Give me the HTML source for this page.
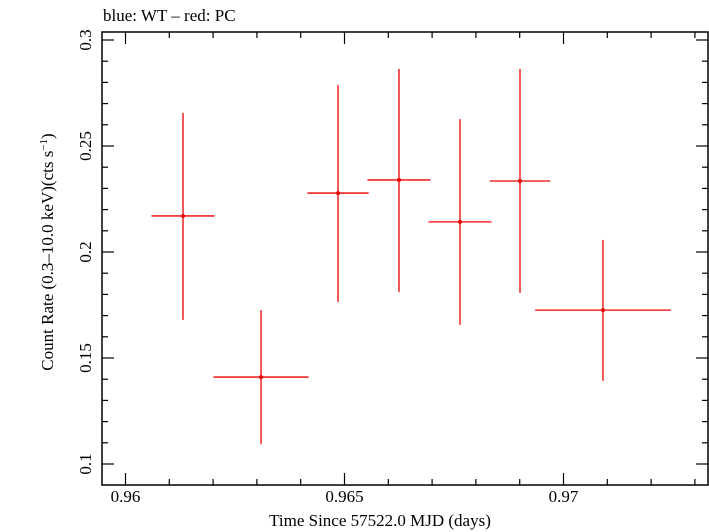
<!DOCTYPE html>
<html><head><meta charset="utf-8"><style>
body{margin:0;background:#fff}
svg{display:block;font-family:"Liberation Serif",serif}
</style></head><body>
<svg id="chart" width="709" height="532">
<text x="103" y="21" font-size="17">blue: WT – red: PC</text>
<rect x="102" y="32" width="606" height="453" fill="none" stroke="#000" stroke-width="1.5"/>
<g id="ticks"></g>
<g id="marks"></g>
<text x="380" y="526" font-size="17" text-anchor="middle">Time Since 57522.0 MJD (days)</text>
<text transform="translate(53,252) rotate(-90)" font-size="17" text-anchor="middle">Count Rate (0.3–10.0 keV)(cts s<tspan dy="-6" font-size="11">−1</tspan><tspan dy="6">)</tspan></text>
</svg>
<script>
const times=[0.961313,0.963094,0.964852,0.966244,0.967637,0.969007,0.970902];
const halfWidths=[0.00072,0.001085,0.0007,0.00072,0.00072,0.00069,0.00155];
const rates=[0.217,0.141,0.2278,0.234,0.2142,0.2335,0.1726];
const errUp=[0.2656,0.1726,0.2788,0.2863,0.2627,0.2863,0.2057];
const errLo=[0.168,0.1094,0.1764,0.1811,0.1656,0.1807,0.1392];
const xTickLabels=["0.96","0.965","0.97"];
const yTickLabels=["0.1","0.15","0.2","0.25","0.3"];
const NS="http://www.w3.org/2000/svg";
const X=v=>125.5+(v-0.96)*43800;
const Y=v=>40+(0.3-v)*2120;
const L=102,R=708,T=32,B=485;
function mk(tag,attrs,parent){const e=document.createElementNS(NS,tag);for(const k in attrs)e.setAttribute(k,attrs[k]);parent.appendChild(e);return e;}
const tg=document.getElementById('ticks');
for(let i=0;i<=13;i++){const v=0.96+i*0.001;const x=X(v);if(x>R)break;const major=i%5==0;const len=major?12:6;
 const t=mk('line',{x1:x,x2:x,y1:B,y2:B-len,stroke:'#000','stroke-width':1.2},tg);
 
 
 const t2=mk('line',{x1:x,x2:x,y1:T,y2:T+len,stroke:'#000','stroke-width':1.2},tg);
 
 }
xTickLabels.forEach(s=>{const t=mk('text',{x:X(parseFloat(s)),y:502,'font-size':17,'text-anchor':'middle'},tg);t.textContent=s;
 
 });
for(let i=0;i<=21;i++){const v=0.1+i*0.01;const y=Y(v);if(y<T)break;const major=i%5==0;const len=major?12:6;
 const t=mk('line',{x1:L,x2:L+len,y1:y,y2:y,stroke:'#000','stroke-width':1.2},tg);
 
 
 const t2=mk('line',{x1:R,x2:R-len,y1:y,y2:y,stroke:'#000','stroke-width':1.2},tg);
 
 }
yTickLabels.forEach(s=>{const y=Y(parseFloat(s));const t=mk('text',{transform:`translate(91,${y}) rotate(-90)`,'font-size':17,'text-anchor':'middle'},tg);t.textContent=s;
 
 });
const mg=document.getElementById('marks');
times.forEach((t,i)=>{const g=mk('g',{},mg);
 
 
 mk('line',{x1:X(t-halfWidths[i]),x2:X(t+halfWidths[i]),y1:Y(rates[i]),y2:Y(rates[i]),stroke:'#e00','stroke-width':1.3},g);
 mk('line',{x1:X(t),x2:X(t),y1:Y(errUp[i]),y2:Y(errLo[i]),stroke:'#e00','stroke-width':1.3},g);
 mk('circle',{cx:X(t),cy:Y(rates[i]),r:2,fill:'#e00'},g);});
</script>
</body></html>
